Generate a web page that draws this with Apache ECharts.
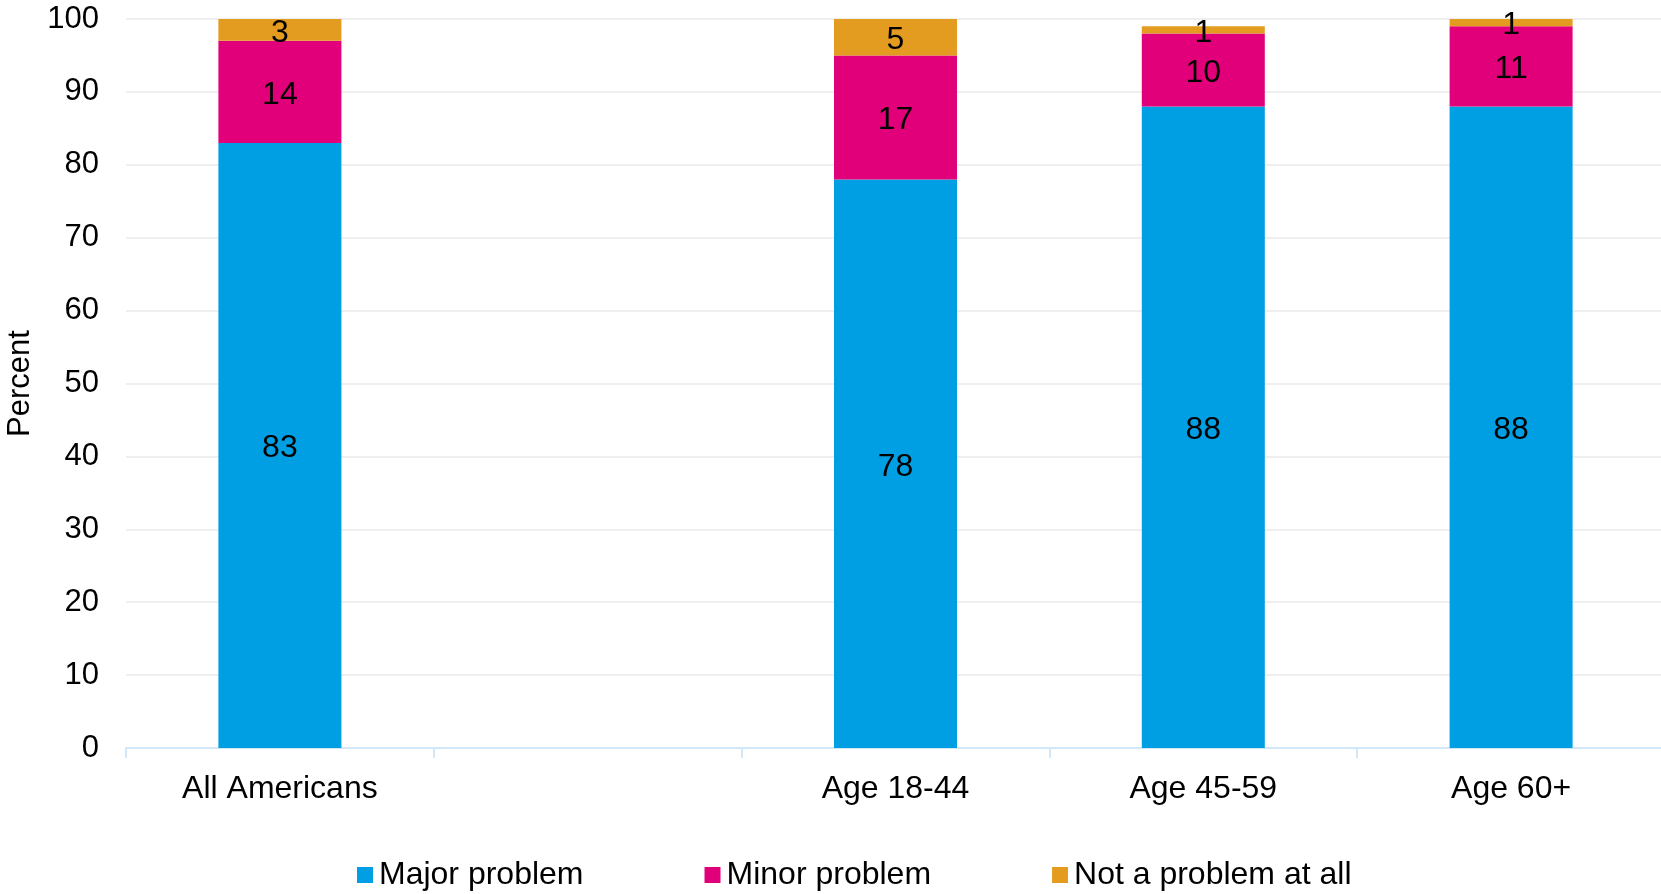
<!DOCTYPE html>
<html><head><meta charset="utf-8">
<script src="https://cdn.jsdelivr.net/npm/echarts@6/dist/echarts.min.js"></script>
<style>html,body{margin:0;padding:0;background:#fff}#c{width:1661px;height:894px}</style>
</head><body><div id="c"></div>
<script>
const categories = ['All Americans', '', 'Age 18-44', 'Age 45-59', 'Age 60+'];
const majorProblem = [83, null, 78, 88, 88];
const minorProblem = [14, null, 17, 10, 11];
const notAProblem = [3, null, 5, 1, 1];
const yTicks = [0, 10, 20, 30, 40, 50, 60, 70, 80, 90, 100];

const font = 'Liberation Sans, Arial, sans-serif';
const lbl = {show: true, position: 'inside', offset: [0, 3], color: '#000', fontSize: 32, fontFamily: font,
  formatter: p => p.value == null ? '' : String(p.value)};
function s(name, data, color) {
  return {name, type: 'bar', stack: 'a', data, barWidth: 123,
    itemStyle: {color}, label: lbl, emphasis: {disabled: true}};
}
const chart = echarts.init(document.getElementById('c'));
chart.setOption({
  animation: false,
  grid: {left: 126, top: 19, width: 1539, height: 729, containLabel: false, outerBoundsMode: 'none'},
  legend: {left: 352, top: 854, itemWidth: 16, itemHeight: 16, itemGap: 121, icon: 'rect',
    textStyle: {fontSize: 32, fontFamily: font, color: '#000', padding: [0, 0, 0, 1]},
    data: ['Major problem', 'Minor problem', 'Not a problem at all']},
  xAxis: {type: 'category', data: categories,
    axisLine: {lineStyle: {color: '#d2e7f8', width: 2}},
    axisTick: {show: true, length: 10, lineStyle: {color: '#d2e7f8', width: 2}},
    axisLabel: {color: '#000', fontSize: 32, fontFamily: font, margin: 25}},
  yAxis: {type: 'value', min: 0, max: 100, interval: 10,
    name: 'Percent', nameLocation: 'middle', nameGap: 89, nameRotate: 90,
    nameTextStyle: {color: '#000', fontSize: 31, fontFamily: font},
    axisLine: {show: false}, axisTick: {show: false},
    axisLabel: {color: '#000', fontSize: 31, fontFamily: font, margin: 27,
      formatter: v => yTicks.includes(v) ? String(v) : ''},
    splitLine: {lineStyle: {color: '#efefef', width: 2}}},
  series: [
    s('Major problem', majorProblem, '#009fe3'),
    s('Minor problem', minorProblem, '#e2007a'),
    s('Not a problem at all', notAProblem, '#e39c1f')
  ]
});
</script></body></html>
